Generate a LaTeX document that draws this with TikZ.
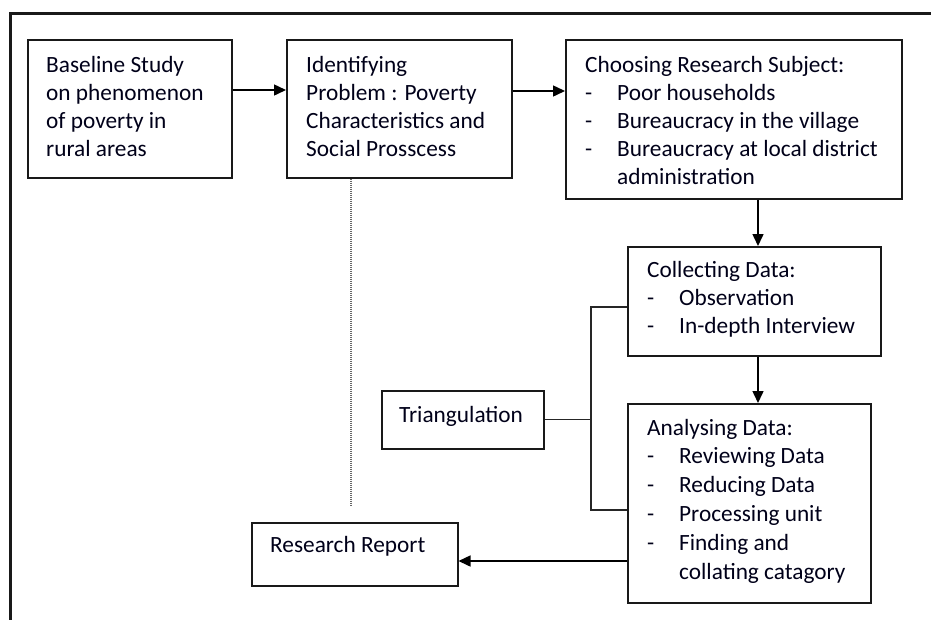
\documentclass[tikz,border=0pt]{standalone}
\usepackage{fontspec}
\setmainfont{Carlito}
\usetikzlibrary{arrows.meta}
\begin{document}
\begin{tikzpicture}[x=1pt,y=-1pt,
  boxst/.style={draw=black!90, line width=1.5pt, inner sep=0pt, anchor=north west},
  txt/.style={inner sep=0pt, anchor=base west, text=black!90!blue, font=\fontsize{23.3}{28}\selectfont},
  arr/.style={draw=black, line width=1.5pt, -{Triangle[length=12pt,width=11pt]}},
  ln/.style={draw=black!85, line width=1.3pt},
  dotst/.style={draw=black!60, line width=1.2pt, dash pattern=on 1pt off 1pt},
  framest/.style={draw=black!90, line width=3pt}]
\useasboundingbox (0,0) rectangle (931,619);
\fill[white] (0,0) rectangle (931,619);
\draw[framest] (10,625) -- (10,13) -- (940,13);
% dash-list helpers
\newcommand{\dItem}[1]{\makebox[32pt][l]{-}#1}
\newcommand{\dCont}[1]{\hspace*{32pt}#1}
% boxes
\node[boxst, minimum width=204pt, minimum height=138pt] (b1) at (27,39) {};
\node[boxst, minimum width=225pt, minimum height=138pt] (b2) at (286,39) {};
\node[boxst, minimum width=336pt, minimum height=159pt] (b3) at (565,39) {};
\node[boxst, minimum width=253pt, minimum height=109pt] (coll) at (627,246) {};
\node[boxst, minimum width=243pt, minimum height=199pt] (anal) at (627,403) {};
\node[boxst, minimum width=162pt, minimum height=58pt] (tri) at (381,390) {};
\node[boxst, minimum width=206pt, minimum height=63pt] (rep) at (251,522) {};
% texts
\node[txt] (t1) at (46,72) {\parbox[t]{200pt}{\raggedright Baseline Study\\on phenomenon\\of poverty in\\rural areas}};
\node[txt] (t2) at (306,72) {\parbox[t]{220pt}{\raggedright Identifying\\Problem : Poverty\\Characteristics and\\Social Prosscess}};
\node[txt] (t3) at (585,72) {\parbox[t]{330pt}{\raggedright Choosing Research Subject:\\\dItem{Poor households}\\\dItem{Bureaucracy in the village}\\\dItem{Bureaucracy at local district}\\\dCont{administration}}};
\node[txt] (t4) at (647,277) {\parbox[t]{240pt}{\raggedright Collecting Data:\\\dItem{Observation}\\\dItem{In-depth Interview}}};
\node[txt, font=\fontsize{23.3}{28.8}\selectfont] (t5) at (647,435) {\parbox[t]{240pt}{\raggedright Analysing Data:\\\dItem{Reviewing Data}\\\dItem{Reducing Data}\\\dItem{Processing unit}\\\dItem{Finding and}\\\dCont{collating catagory}}};
\node[txt] (t6) at (399,422) {Triangulation};
\node[txt] (t7) at (270,552) {Research Report};
% helper coordinates
\coordinate (vx) at (758,0);
\coordinate (hy) at (0,561);
\coordinate (bx) at (591,0);
\coordinate (ty) at (0,307);
\coordinate (by) at (0,510);
\coordinate (dend) at (351,505);
% connectors
\draw[arr] ([yshift=-51pt]b1.north east) -- ([yshift=-51pt]b2.north west);
\draw[arr] ([yshift=-52pt]b2.north east) -- ([yshift=-52pt]b3.north west);
\draw[arr] (b3.south -| vx) -- (coll.north -| vx);
\draw[arr] (coll.south -| vx) -- (anal.north -| vx);
\draw[arr] (anal.west |- hy) -- (rep.east |- hy);
\draw[ln] (tri.east) -- (tri.east -| bx);
\draw[ln] (coll.west |- ty) -| (bx |- by) -- (anal.west |- by);
\draw[dotst] (b2.south -| dend) -- (dend);
\end{tikzpicture}
\end{document}
